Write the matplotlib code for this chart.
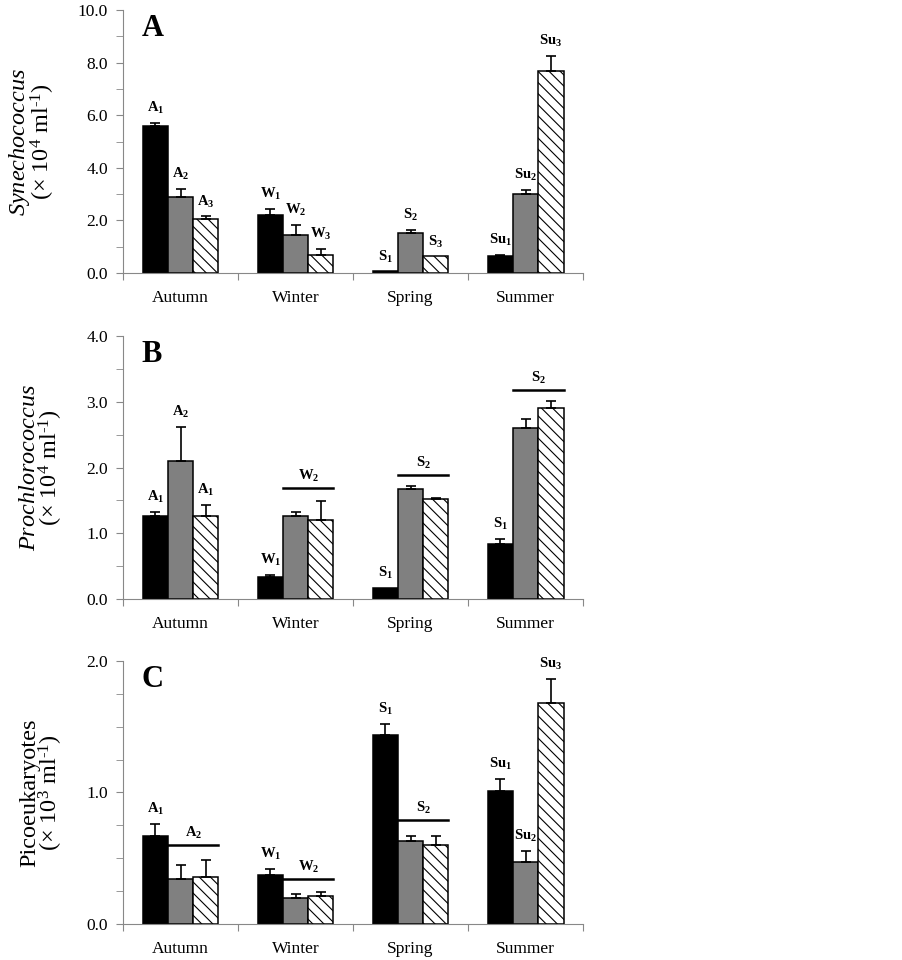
import numpy as np
import matplotlib
matplotlib.use("Agg")
import matplotlib.pyplot as plt
from matplotlib.ticker import MultipleLocator, FormatStrFormatter

plt.rcParams["font.family"] = ["Liberation Serif", "DejaVu Serif"]
plt.rcParams["mathtext.fontset"] = "custom"
plt.rcParams["mathtext.rm"] = "Liberation Serif"
plt.rcParams["mathtext.it"] = "Liberation Serif:italic"
plt.rcParams["mathtext.bf"] = "Liberation Serif:bold"
plt.rcParams["hatch.linewidth"] = 0.8

seasons = ["Autumn", "Winter", "Spring", "Summer"]

# A: Synechococcus (x 10^4 ml^-1), per season: [bar1, bar2, bar3]
syn_mean = [[5.59, 2.89, 2.05], [2.21, 1.43, 0.68], [0.06, 1.53, 0.63], [0.64, 2.99, 7.68]]
syn_err = [[0.12, 0.29, 0.10], [0.23, 0.39, 0.24], [0.0, 0.12, 0.0], [0.05, 0.17, 0.56]]
syn_labels = [(0, 0, "A_1"), (0, 1, "A_2"), (0, 2, "A_3"),
              (1, 0, "W_1"), (1, 1, "W_2"), (1, 2, "W_3"),
              (2, 0, "S_1"), (2, 1, "S_2"), (2, 2, "S_3"),
              (3, 0, "Su_1"), (3, 1, "Su_2"), (3, 2, "Su_3")]
syn_groups = []

# B: Prochlorococcus (x 10^4 ml^-1)
pro_mean = [[1.27, 2.10, 1.27], [0.33, 1.27, 1.20], [0.17, 1.68, 1.52], [0.84, 2.60, 2.91]]
pro_err = [[0.06, 0.52, 0.16], [0.04, 0.06, 0.29], [0.0, 0.04, 0.02], [0.07, 0.14, 0.10]]
pro_labels = [(0, 0, "A_1"), (0, 1, "A_2"), (0, 2, "A_1"),
              (1, 0, "W_1"), (2, 0, "S_1"), (3, 0, "S_1")]
pro_groups = [(1, "W_2", 1.69), (2, "S_2", 1.89), (3, "S_2", 3.18)]

# C: Picoeukaryotes (x 10^3 ml^-1)
pico_mean = [[0.67, 0.34, 0.36], [0.37, 0.20, 0.21], [1.44, 0.63, 0.60], [1.01, 0.475, 1.68]]
pico_err = [[0.09, 0.11, 0.13], [0.05, 0.03, 0.03], [0.08, 0.04, 0.07], [0.09, 0.08, 0.18]]
pico_labels = [(0, 0, "A_1"), (1, 0, "W_1"), (2, 0, "S_1"),
               (3, 0, "Su_1"), (3, 1, "Su_2"), (3, 2, "Su_3")]
pico_groups = [(0, "A_2", 0.60), (1, "W_2", 0.34), (2, "S_2", 0.79)]

BAR_W = 0.22
AXIS_GRAY = "#888888"


def draw_panel(ax, means, errs, labels, groups, ymax, major, minor, letter, ylabel):
    means = np.array(means)
    errs = np.array(errs)
    x = np.arange(len(seasons))
    offsets = [-BAR_W, 0.0, BAR_W]
    styles = [dict(color="black"), dict(color="#808080"),
              dict(color="white", hatch="\\\\\\")]
    for j in range(3):
        xs = x + offsets[j]
        ax.bar(xs, means[:, j], BAR_W, edgecolor="black", linewidth=1.1,
               zorder=2, **styles[j])
        keep = errs[:, j] > 0
        ax.errorbar(xs[keep], means[keep, j],
                    yerr=[np.zeros(keep.sum()), errs[keep, j]],
                    fmt="none", ecolor="black", elinewidth=1.2,
                    capsize=3.5, capthick=1.2, zorder=3)

    for s, b, txt in labels:
        top = means[s, b] + errs[s, b]
        ax.annotate(r"$\mathbf{%s}$" % txt, (x[s] + offsets[b], top),
                    xytext=(0, 5), textcoords="offset points",
                    ha="center", va="bottom", fontsize=10.5)

    for s, txt, h in groups:
        x0 = x[s] + offsets[1] - BAR_W / 2
        x1 = x[s] + offsets[2] + BAR_W / 2
        ax.plot([x0, x1], [h, h], color="black", lw=1.8, zorder=3)
        ax.annotate(r"$\mathbf{%s}$" % txt, ((x0 + x1) / 2, h),
                    xytext=(0, 3), textcoords="offset points",
                    ha="center", va="bottom", fontsize=10.5)

    ax.set_xlim(-0.5, len(seasons) - 0.5)
    ax.set_ylim(0, ymax)
    ax.yaxis.set_major_locator(MultipleLocator(major))
    ax.yaxis.set_minor_locator(MultipleLocator(minor))
    ax.yaxis.set_major_formatter(FormatStrFormatter("%.1f"))
    ax.set_xticks(np.arange(-0.5, len(seasons)))
    ax.set_xticklabels([])
    ax.set_xticks(x, minor=True)
    ax.set_xticklabels(seasons, minor=True)
    ax.tick_params(axis="x", which="major", direction="out", length=5,
                   color=AXIS_GRAY)
    ax.tick_params(axis="x", which="minor", length=0, labelsize=12.5, pad=12)
    ax.tick_params(axis="y", which="both", direction="out", length=5,
                   color=AXIS_GRAY, labelsize=12.5, pad=6)

    for side in ["top", "right"]:
        ax.spines[side].set_visible(False)
    for side in ["left", "bottom"]:
        ax.spines[side].set_color(AXIS_GRAY)

    ax.text(0.04, 0.985, letter, transform=ax.transAxes, ha="left", va="top",
            fontsize=22, fontweight="bold")
    ax.set_ylabel(ylabel, fontsize=17.5, labelpad=15, linespacing=0.85)


fig = plt.figure(figsize=(9.02, 9.6), dpi=100)
axA = fig.add_axes([0.1364, 0.7156, 0.51, 0.2740])
axB = fig.add_axes([0.1364, 0.3760, 0.51, 0.2740])
axC = fig.add_axes([0.1364, 0.0375, 0.51, 0.2740])

unit4 = r"(× 10$^4$ ml$^{\text{-1}}$)"
unit3 = r"(× 10$^3$ ml$^{\text{-1}}$)"
draw_panel(axA, syn_mean, syn_err, syn_labels, syn_groups, 10.0, 2.0, 1.0, "A",
           r"$\mathit{Synechococcus}$" + "\n" + unit4)
draw_panel(axB, pro_mean, pro_err, pro_labels, pro_groups, 4.0, 1.0, 0.5, "B",
           r"$\mathit{Prochlorococcus}$" + "\n" + unit4)
draw_panel(axC, pico_mean, pico_err, pico_labels, pico_groups, 2.0, 1.0, 0.25, "C",
           "Picoeukaryotes\n" + unit3)

fig.savefig("out.png", dpi=100)
